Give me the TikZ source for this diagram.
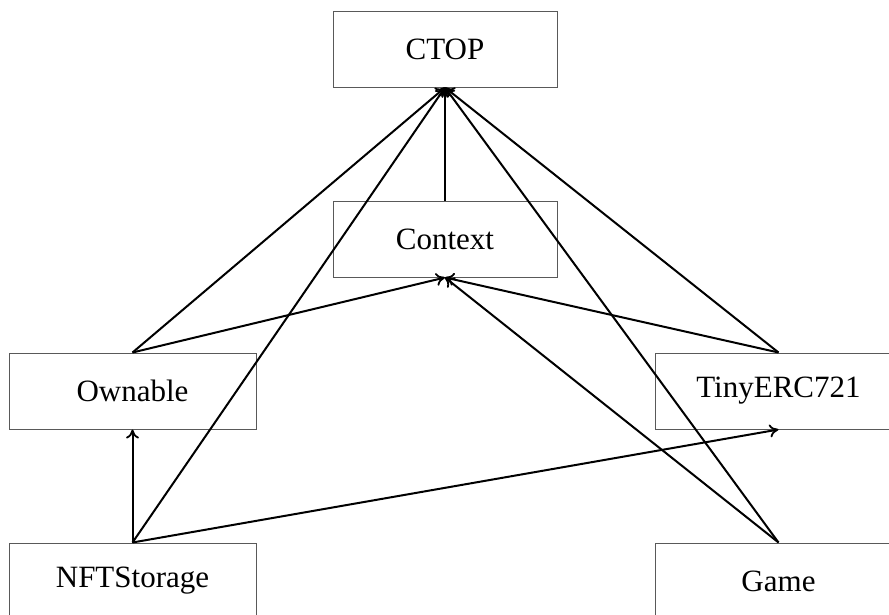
\documentclass[tikz,border=0pt]{standalone}
\usepackage{fontspec}
\setmainfont{Liberation Serif}
\usetikzlibrary{arrows.meta}
\begin{document}
\begin{tikzpicture}[x=1pt,y=-1pt,
  box/.style={draw=black!65,line width=1pt,minimum height=76pt,inner sep=0pt,font=\fontsize{31}{36}\selectfont},
  dep/.style={-{To[length=9pt,width=13pt,line width=1.8pt]},line width=2pt,black}]
\useasboundingbox (0,0) rectangle (889,614);
\node[box,minimum width=224pt] (ctop) at (445,49) {CTOP};
\node[box,minimum width=224pt] (ctx) at (445,239) {Context};
\node[box,minimum width=247pt] (own) at (132.5,391) {Ownable};
\node[box,minimum width=247pt] (tiny) at (778.5,391) {TinyERC721};
\node[box,minimum width=247pt] (nft) at (132.5,581) {NFTStorage};
\node[box,minimum width=247pt] (game) at (778.5,581) {Game};
\draw[dep] (ctx.north) -- (ctop.south);
\draw[dep] (own.north) -- (ctop.south);
\draw[dep] (own.north) -- (ctx.south);
\draw[dep] (tiny.north) -- (ctop.south);
\draw[dep] (tiny.north) -- (ctx.south);
\draw[dep] (nft.north) -- (own.south);
\draw[dep] (nft.north) -- (ctop.south);
\draw[dep] (nft.north) -- (tiny.south);
\draw[dep] (game.north) -- (ctop.south);
\draw[dep] (game.north) -- (ctx.south);
\end{tikzpicture}
\end{document}
